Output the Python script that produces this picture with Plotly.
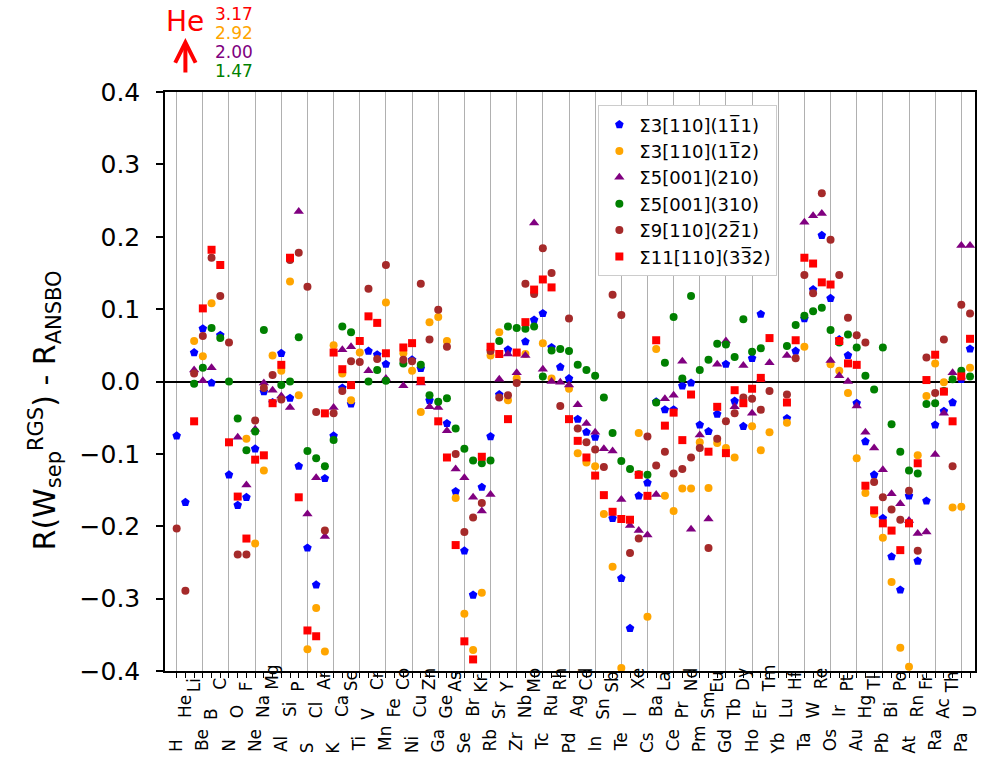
import plotly.graph_objects as go

elements = ["H","He","Li","Be","B","C","N","O","F","Ne","Na","Mg","Al","Si","P","S","Cl","Ar",
            "K","Ca","Sc","Ti","V","Cr","Mn","Fe","Co","Ni","Cu","Zn","Ga","Ge","As","Se","Br","Kr",
            "Rb","Sr","Y","Zr","Nb","Mo","Tc","Ru","Rh","Pd","Ag","Cd","In","Sn","Sb","Te","I","Xe",
            "Cs","Ba","La","Ce","Pr","Nd","Pm","Sm","Eu","Gd","Tb","Dy","Ho","Er","Tm","Yb","Lu","Hf",
            "Ta","W","Re","Os","Ir","Pt","Au","Hg","Tl","Pb","Bi","Po","At","Rn","Fr","Ra","Ac","Th",
            "Pa","U"]
N = None
s3_111 = [-0.075,-0.167,0.040,0.073,-0.002,0.064,-0.129,-0.171,-0.160,-0.093,-0.014,-0.029,0.039,-0.023,-0.117,-0.230,-0.281,-0.134,
          -0.075,-0.009,-0.031,N,0.042,0.037,0.024,N,N,0.030,0.018,-0.026,N,-0.058,-0.152,-0.234,-0.295,-0.146,
          -0.076,-0.018,0.044,N,0.055,0.085,0.094,0.047,0.020,0.004,-0.052,-0.070,-0.077,N,-0.189,-0.272,-0.341,-0.158,
          -0.140,-0.028,-0.039,-0.039,-0.006,-0.002,-0.060,-0.069,-0.045,0.024,-0.027,-0.062,0.032,0.093,N,N,-0.051,0.042,
          0.087,0.127,0.202,0.115,0.058,0.036,-0.030,-0.083,-0.129,-0.189,-0.242,-0.288,-0.158,-0.248,-0.165,-0.060,-0.041,-0.029,
          0.003,0.045]
s3_112 = [N,2.92,0.056,0.035,0.108,N,N,N,-0.079,-0.224,-0.123,0.036,0.015,0.138,-0.019,-0.370,-0.313,-0.373,
          0.050,0.011,-0.026,0.040,N,N,0.109,N,0.039,0.015,-0.042,0.082,0.089,0.056,-0.161,-0.321,-0.371,-0.292,
          0.036,0.068,-0.026,0.004,0.038,N,0.053,0.004,N,-0.010,-0.099,-0.112,-0.117,-0.183,-0.256,-0.396,N,-0.071,
          -0.325,0.045,-0.158,-0.179,-0.148,-0.148,-0.084,-0.147,-0.085,-0.092,-0.105,N,-0.062,-0.095,-0.070,N,-0.057,N,
          0.048,N,N,0.024,0.015,-0.016,-0.106,-0.154,-0.183,-0.216,-0.277,-0.368,-0.394,-0.102,-0.020,0.025,-0.001,-0.174,
          -0.173,0.019]
s5_210 = [N,2.00,0.016,0.001,0.019,N,N,-0.077,-0.143,-0.066,-0.002,-0.012,-0.020,-0.036,0.235,-0.183,-0.133,-0.214,
          -0.036,0.044,0.048,N,0.015,N,0.004,N,-0.006,N,-0.002,-0.035,-0.036,-0.068,-0.121,-0.133,-0.160,-0.179,
          -0.156,0.003,0.038,0.012,0.036,0.219,0.017,0.000,-0.001,-0.005,-0.032,-0.058,-0.070,-0.093,-0.096,-0.163,-0.199,-0.206,
          -0.212,-0.156,-0.024,-0.019,0.028,-0.204,-0.074,-0.190,0.024,0.056,-0.035,0.022,-0.044,0.003,0.026,N,0.036,N,
          0.220,0.229,0.232,0.029,0.008,0.000,-0.034,-0.070,-0.092,-0.122,-0.155,-0.169,-0.192,-0.210,-0.208,-0.101,-0.044,0.012,
          0.188,0.188]
s5_310 = [N,1.47,-0.003,0.019,0.074,0.060,0.000,-0.051,-0.095,-0.069,0.071,N,-0.005,0.000,0.061,-0.096,-0.106,-0.117,
          -0.081,0.076,0.068,N,0.000,0.016,0.001,N,0.025,N,0.023,-0.019,-0.028,-0.023,-0.065,-0.093,-0.109,-0.113,
          -0.109,0.056,0.076,0.074,0.073,0.076,0.007,0.043,0.045,0.042,0.023,0.016,0.008,-0.022,-0.071,-0.110,-0.121,-0.128,
          -0.129,-0.029,0.026,0.089,0.004,0.118,0.016,0.030,0.052,0.051,0.034,0.086,0.041,0.046,N,N,0.049,0.078,
          0.091,0.097,0.102,0.071,0.054,0.065,0.047,0.008,-0.011,0.047,-0.059,-0.097,-0.123,-0.127,-0.031,-0.030,-0.013,0.003,
          0.015,0.007]
s9_221 = [-0.203,-0.289,0.011,0.063,0.171,0.118,0.054,-0.239,-0.239,-0.054,-0.009,0.009,-0.025,0.168,0.178,0.131,-0.042,-0.206,
          -0.044,-0.013,0.028,0.027,0.128,0.031,0.161,N,0.030,0.028,0.135,0.058,0.099,0.048,-0.100,-0.208,-0.188,-0.168,
          0.042,-0.022,-0.019,-0.002,0.135,0.121,0.184,0.150,-0.034,0.087,-0.065,-0.084,-0.094,-0.118,0.120,0.092,-0.237,-0.217,
          -0.076,-0.116,-0.097,-0.127,-0.121,-0.105,-0.092,-0.230,-0.079,-0.055,-0.044,-0.022,-0.024,-0.039,-0.013,N,-0.018,0.032,
          0.147,0.122,0.260,0.196,0.147,0.088,0.064,0.054,-0.139,-0.160,-0.177,-0.191,-0.151,-0.234,0.033,-0.016,0.058,-0.117,
          0.106,0.094]
s11_332 = [N,3.17,-0.055,0.101,0.182,0.161,-0.084,-0.159,-0.217,-0.108,-0.102,-0.030,0.023,0.171,-0.160,-0.344,-0.352,-0.044,
           0.040,0.017,-0.005,0.056,0.090,0.081,0.039,N,0.047,0.053,0.001,N,-0.055,-0.105,-0.226,-0.359,-0.384,-0.104,
           0.048,0.038,-0.052,0.040,0.082,0.127,0.141,0.130,N,-0.052,-0.082,-0.105,-0.130,-0.157,-0.180,-0.190,-0.191,-0.129,
           -0.158,0.057,-0.061,-0.043,-0.081,-0.018,N,-0.097,-0.035,-0.099,-0.012,-0.030,-0.010,0.005,0.060,N,-0.029,0.057,
           0.171,0.163,0.137,0.134,0.056,0.025,0.023,-0.144,-0.178,-0.196,-0.206,-0.233,-0.196,-0.113,0.002,0.037,-0.014,-0.055,
           0.007,0.059]

series_names = ["Σ3[110](11\u03051)", "Σ3[110](11\u03052)", "Σ5[001](210)",
                "Σ5[001](310)", "Σ9[110](22\u03051)", "Σ11[110](33\u03052)"]
series_values = [s3_111, s3_112, s5_210, s5_310, s9_221, s11_332]
colors = ["blue", "orange", "purple", "green", "brown", "red"]
symbols = ["pentagon", "circle", "triangle-up", "circle", "circle", "square"]
sizes = [9, 8, 9, 8, 8, 8]

ytick_vals = [-0.4, -0.3, -0.2, -0.1, 0.0, 0.1, 0.2, 0.3, 0.4]
ytick_text = ["\u22120.4", "\u22120.3", "\u22120.2", "\u22120.1", "0.0", "0.1", "0.2", "0.3", "0.4"]

xpos = list(range(1, len(elements) + 1))
FONT = "DejaVu Sans"
XRANGE = [-0.34, 92.57]
LABEL_SIZE = 17

# approximate DejaVu Sans advance widths (em) used to bottom-align the rotated labels
ADV = {"A":.684,"B":.686,"C":.698,"D":.770,"E":.632,"F":.575,"G":.775,"H":.752,"I":.295,"K":.656,
       "L":.557,"M":.863,"N":.748,"O":.787,"P":.603,"R":.695,"S":.635,"T":.611,"U":.732,"V":.684,
       "W":.989,"X":.685,"Y":.611,"Z":.685,"a":.613,"b":.635,"c":.550,"d":.635,"e":.615,"f":.352,
       "g":.635,"h":.634,"i":.278,"l":.278,"m":.974,"n":.634,"o":.612,"r":.411,"s":.521,"t":.392,"u":.634}
THIN = "\u2009"   # thin space, 0.2 em

def padded(label, room_px):
    w = sum(ADV.get(ch, 0.6) for ch in label) * LABEL_SIZE
    n = max(0, int(round((room_px - w) / (0.2 * LABEL_SIZE))))
    return label + THIN * n

fig = go.Figure()
for name, vals, c, sym, sz in zip(series_names, series_values, colors, symbols, sizes):
    fig.add_trace(go.Scatter(x=xpos, y=vals, mode="markers", name=name,
                             marker=dict(color=c, symbol=sym, size=sz, line=dict(width=0))))
# empty carrier traces so the two extra label axes get drawn
for ax in ("x2", "x3"):
    fig.add_trace(go.Scatter(x=[xpos[0]], y=[None], xaxis=ax, yaxis="y", mode="markers",
                             showlegend=False, hoverinfo="skip"))

PW, PH = 1007, 765
ML, MT, MR, MB = 165, 92, 32, 94
plot_h = PH - MT - MB

annotations = []
annotations.append(dict(x=0, y=0.45, xref="paper", yref="paper", xshift=-120,
                        text="R(W<sub>sep</sub><sup>RGS</sup>) - R<sub>ANSBO</sub>",
                        textangle=-90, showarrow=False, xanchor="center", yanchor="middle",
                        font=dict(family=FONT, size=30, color="black")))
he_idx = elements.index("He")
annotations.append(dict(x=xpos[he_idx], y=1 + 70 / plot_h, xref="x", yref="paper", text="He",
                        showarrow=False, xanchor="center", yanchor="middle",
                        font=dict(family=FONT, size=28, color="red")))
annotations.append(dict(x=xpos[he_idx], y=1 + 54 / plot_h, xref="x", yref="paper", text="",
                        showarrow=True, ax=0, ay=36, arrowhead=5, arrowwidth=4, arrowsize=1,
                        arrowcolor="red"))
offscale = [(s11_332[he_idx], "red", 78), (s3_112[he_idx], "orange", 59),
            (s5_210[he_idx], "purple", 40), (s5_310[he_idx], "green", 21)]
for v, c, up in offscale:
    annotations.append(dict(x=xpos[he_idx], y=1 + up / plot_h, xref="x", yref="paper",
                            text=f"{v:.2f}", showarrow=False, xanchor="left", yanchor="middle",
                            xshift=28, font=dict(family=FONT, size=17, color=c)))

ROOM = 27  # px reserved per label column (longest label)
lvl = [[i for i in range(len(elements)) if i % 3 == k] for k in range(3)]
label_font = dict(family=FONT, size=LABEL_SIZE, color="black")
lvl_text = [[padded(elements[i], ROOM) for i in idx] for idx in lvl]

fig.update_layout(
    width=PW, height=PH,
    margin=dict(l=ML, r=MR, t=MT, b=MB, autoexpand=False),
    paper_bgcolor="white", plot_bgcolor="white",
    font=dict(family=FONT, color="black"),
    showlegend=True,
    legend=dict(x=0.535, y=0.977, xanchor="left", yanchor="top",
                bgcolor="white", bordercolor="#cccccc", borderwidth=1,
                font=dict(family=FONT, size=18, color="black")),
    annotations=annotations,
    xaxis=dict(range=XRANGE, showline=True, mirror=True, linecolor="black", linewidth=1.5,
               tickmode="array", tickvals=[xpos[i] for i in lvl[0]],
               ticktext=lvl_text[0], tickangle=-90, tickfont=label_font,
               ticklabelstandoff=41,
               ticks="outside", ticklen=5, tickcolor="black", tickwidth=1,
               showgrid=True, gridcolor="#b0b0b0", gridwidth=1, zeroline=False,
               minor=dict(tickmode="array", tickvals=xpos, ticks="outside", ticklen=5,
                          tickcolor="black", tickwidth=1, showgrid=False)),
    xaxis2=dict(range=XRANGE, overlaying="x", anchor="y", side="bottom",
                tickmode="array", tickvals=[xpos[i] for i in lvl[1]],
                ticktext=lvl_text[1], tickangle=-90, tickfont=label_font,
                ticklabelstandoff=16, ticks="", showline=False, showgrid=False, zeroline=False),
    xaxis3=dict(range=XRANGE, overlaying="x", anchor="y", side="bottom",
                tickmode="array", tickvals=[xpos[i] for i in lvl[2]],
                ticktext=lvl_text[2], tickangle=-90, tickfont=label_font,
                ticklabelstandoff=-11, ticks="", showline=False, showgrid=False, zeroline=False),
    yaxis=dict(range=[-0.4, 0.4], showline=True, mirror=True, linecolor="black", linewidth=1.5,
               tickmode="array", tickvals=ytick_vals, ticktext=ytick_text,
               ticks="outside", ticklen=7, tickwidth=1.5, tickcolor="black",
               tickfont=dict(family=FONT, size=25, color="black"), ticklabelstandoff=11,
               showgrid=False, zeroline=True, zerolinecolor="black", zerolinewidth=2),
)

# remove the browser's default page margin so the figure fills the window exactly
fig.write_html("out.html", config={"displayModeBar": False},
               post_script="document.body.style.margin='0px';")
